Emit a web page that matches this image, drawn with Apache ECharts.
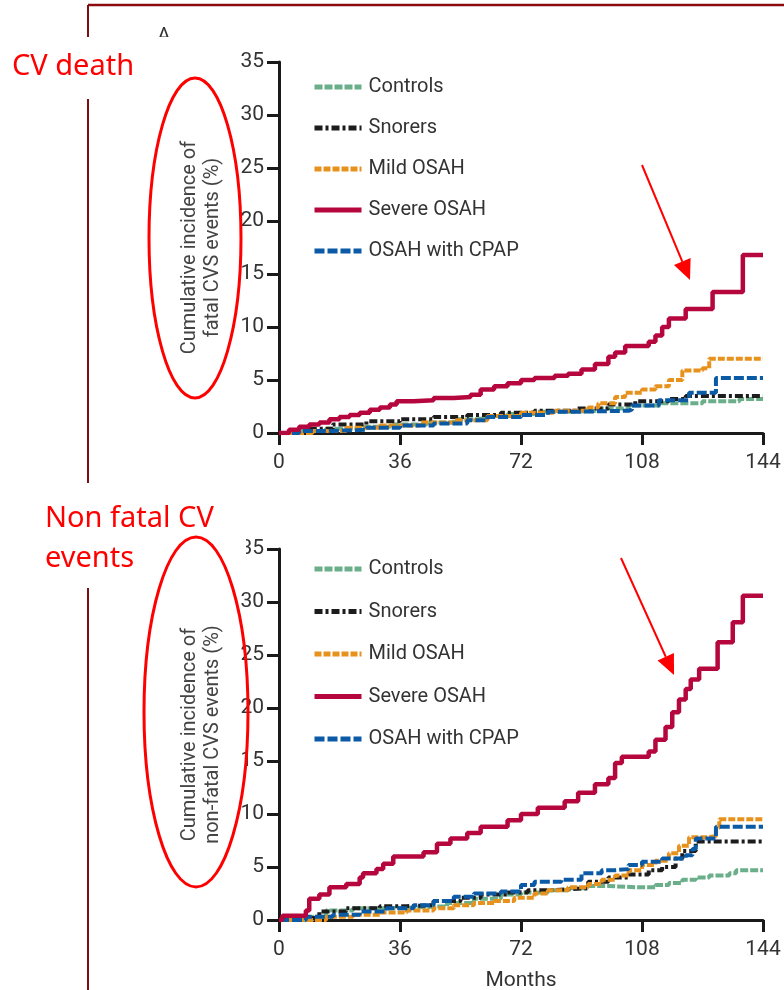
<!DOCTYPE html>
<html>
<head>
<meta charset="utf-8">
<script src="https://cdn.jsdelivr.net/npm/echarts@6/dist/echarts.min.js"></script>
<style>
  html, body { margin: 0; padding: 0; background: #fff; }
  #main { width: 784px; height: 990px; }
</style>
</head>
<body>
<div id="main"></div>
<script>
// series names
var names = ['Controls', 'Snorers', 'Mild OSAH', 'Severe OSAH', 'OSAH with CPAP'];
var xTicks = [0, 36, 72, 108, 144];

// fatal CVS events: [month, cumulative %]
var fatalControls = [[0,0],[6,0.2],[14,0.4],[24,0.6],[34,0.8],[44,1.0],[52,1.3],[60,1.6],[68,1.8],[76,2.0],[86,2.1],[96,2.3],[104,2.6],[114,2.8],[126,3.0],[137,3.2],[144,3.2]];
var fatalSnorers = [[0,0],[8,0.4],[16,0.8],[26,1.1],[36,1.3],[46,1.5],[56,1.7],[66,1.9],[76,2.1],[88,2.3],[98,2.7],[106,3.0],[116,3.2],[121,3.5],[144,3.5]];
var fatalMild = [[0,0],[10,0.2],[20,0.5],[30,0.7],[42,1.0],[52,1.2],[62,1.6],[72,1.9],[82,2.1],[92,2.4],[95,2.8],[100,3.4],[103,3.8],[108,4.1],[112,4.4],[116,5.0],[120,5.9],[126,6.1],[128,7.0],[144,7.0]];
var fatalSevere = [[0,0],[3,0.3],[6,0.6],[9,0.8],[12,1.0],[15,1.3],[18,1.5],[21,1.7],[24,1.9],[27,2.2],[30,2.4],[33,2.7],[35,3.0],[40,3.1],[46,3.3],[52,3.4],[57,3.6],[60,4.1],[64,4.4],[68,4.7],[72,5.0],[76,5.2],[82,5.4],[86,5.6],[90,6.0],[94,6.5],[98,7.2],[100,7.6],[103,8.2],[110,8.6],[112,9.2],[114,10.0],[116,10.8],[121,11.7],[129,13.3],[138,16.8],[144,16.8]];
var fatalCpap = [[0,0],[6,0.2],[16,0.3],[26,0.5],[36,0.7],[46,0.9],[56,1.2],[62,1.5],[72,1.7],[80,2.0],[88,2.1],[104,2.2],[105,2.6],[113,3.1],[122,3.8],[130,5.2],[144,5.2]];

// non-fatal CVS events
var nfControls = [[0,0],[10,0.3],[14,0.9],[22,1.1],[32,1.2],[42,1.3],[50,1.6],[58,2.0],[66,2.4],[72,2.6],[80,2.8],[86,3.0],[92,3.2],[98,3.1],[106,3.1],[112,3.3],[116,3.5],[120,3.8],[124,4.0],[128,4.2],[134,4.4],[136,4.7],[144,4.7]];
var nfSnorers = [[0,0],[4,0.2],[12,0.8],[20,1.1],[30,1.3],[38,1.4],[46,1.8],[54,2.1],[60,2.4],[68,2.6],[74,2.8],[80,2.9],[86,3.0],[92,3.6],[98,4.0],[104,4.3],[110,4.7],[114,5.0],[118,5.8],[120,6.5],[124,7.4],[144,7.4]];
var nfMild = [[0,0],[14,0.3],[22,0.5],[30,0.7],[38,0.9],[46,1.1],[52,1.4],[58,1.6],[64,1.8],[70,2.1],[76,2.5],[80,2.8],[86,3.1],[92,3.4],[96,3.8],[100,4.2],[104,4.7],[108,5.2],[112,5.6],[116,6.3],[119,7.0],[122,7.8],[127,7.9],[130,8.7],[131,9.5],[144,9.5]];
var nfSevere = [[0,0],[1,0.4],[8,0.9],[9,2.0],[12,2.4],[15,3.1],[20,3.4],[24,4.0],[25,4.4],[29,4.8],[31,5.3],[34,6.0],[43,6.4],[47,7.2],[51,7.7],[56,8.2],[60,8.8],[68,9.4],[72,10.0],[77,10.6],[85,11.2],[89,12.0],[94,12.8],[98,13.4],[100,14.8],[102,15.4],[110,15.9],[112,17.0],[115,18.2],[117,19.6],[119,20.8],[121,21.8],[122.5,22.7],[125,23.7],[130.5,26.2],[135,28.1],[138,30.6],[144,30.6]];
var nfCpap = [[0,0],[8,0.3],[16,0.5],[24,0.8],[32,1.1],[40,1.4],[46,1.8],[52,2.2],[58,2.5],[66,2.7],[72,3.3],[76,3.6],[84,3.8],[90,4.4],[96,4.7],[100,4.8],[104,5.2],[108,5.5],[114,5.8],[121,6.1],[123,6.7],[124,7.7],[130,8.8],[144,8.8]];

var colors = ['#6aae8a', '#1c1c1c', '#e8921e', '#b6063e', '#0b5aa6'];
var dashes = [[8, 2], [8, 3, 3, 3], [7, 2], 'solid', [10, 3]];
var widths = [4, 4, 4, 4.5, 4];

var labelFont = 'Roboto, sans-serif';
var titleFont = 'Open Sans, Noto Sans, sans-serif';

var chart = echarts.init(document.getElementById('main'));

function makeSeries(idx) {
  var list = [];
  var groups = [
    [fatalControls, fatalSnorers, fatalMild, fatalSevere, fatalCpap],
    [nfControls, nfSnorers, nfMild, nfSevere, nfCpap]
  ];
  for (let i = 0; i < names.length; i++) {
    list.push({
      name: names[i],
      type: 'line',
      step: 'end',
      xAxisIndex: idx,
      yAxisIndex: idx,
      symbol: 'none',
      z: i === 3 ? 5 : 3,
      lineStyle: { color: colors[i], width: widths[i], type: dashes[i] },
      itemStyle: { color: colors[i] },
      data: groups[idx][i]
    });
  }
  return list;
}

function xAxisOf(idx, withName) {
  var ax = {
    type: 'value', gridIndex: idx, min: 0, max: 144, interval: 36,
    axisLine: { lineStyle: { color: '#1a1a1a', width: 3 } },
    axisTick: { length: 12, lineStyle: { width: 3, color: '#1a1a1a' } },
    axisLabel: { fontSize: 21, color: '#333', fontFamily: labelFont, margin: 19 },
    splitLine: { show: false }
  };
  if (withName) {
    ax.name = 'Months';
    ax.nameLocation = 'middle';
    ax.nameGap = 50;
    ax.nameTextStyle = { fontSize: 21, color: '#333', fontFamily: labelFont };
  }
  return ax;
}

function yAxisOf(idx, title) {
  return {
    type: 'value', gridIndex: idx, min: 0, max: 35, interval: 5,
    name: title, nameLocation: 'middle', nameRotate: 90, nameGap: 55,
    nameTextStyle: { fontSize: 20, lineHeight: 23, color: '#444', fontFamily: labelFont },
    axisLine: { show: true, lineStyle: { color: '#1a1a1a', width: 3 } },
    axisTick: { show: true, length: 12, lineStyle: { width: 3, color: '#1a1a1a' } },
    axisLabel: { fontSize: 21, color: '#333', fontFamily: labelFont, margin: 15 },
    splitLine: { show: false }
  };
}

function legendOf(top, gap) {
  return {
    orient: 'vertical', left: 307, top: top, itemGap: gap,
    itemWidth: 47, itemHeight: 20,
    lineStyle: { width: 5 },
    itemStyle: { opacity: 0 },
    textStyle: { fontSize: 20, lineHeight: 20, color: '#333', fontFamily: labelFont, padding: [0, 0, 0, 2] },
    data: names
  };
}

// arrow helper for annotations
function arrow(x1, y1, x2, y2) {
  var dx = x2 - x1, dy = y2 - y1;
  var len = Math.sqrt(dx * dx + dy * dy);
  var ux = dx / len, uy = dy / len;
  var hl = 20, hw = 9;
  var bx = x2 - ux * hl, by = y2 - uy * hl;
  return [
    { type: 'line', z: 120, shape: { x1: x1, y1: y1, x2: bx, y2: by }, style: { stroke: '#ff0000', lineWidth: 2 } },
    { type: 'polygon', z: 120, shape: { points: [[x2, y2], [bx - uy * hw, by + ux * hw], [bx + uy * hw, by - ux * hw]] }, style: { fill: '#ff0000' } }
  ];
}

var graphics = [
  // dark red frame
  { type: 'line', z: 50, shape: { x1: 88, y1: 5, x2: 784, y2: 5 }, style: { stroke: '#8a0c0c', lineWidth: 2.5 } },
  { type: 'line', z: 50, shape: { x1: 88, y1: 5, x2: 88, y2: 990 }, style: { stroke: '#7a1010', lineWidth: 2 } },
  { type: 'text', z: 50, left: 157, top: 26, style: { text: 'A', fontSize: 22, fill: '#333', fontFamily: titleFont } },
  // text boxes
  { type: 'rect', z: 100, shape: { x: 0, y: 37, width: 172, height: 62 }, style: { fill: '#fff' } },
  { type: 'rect', z: 100, shape: { x: 0, y: 483, width: 246, height: 105 }, style: { fill: '#fff' } },
  { type: 'text', z: 110, left: 12, top: 52, style: { text: 'CV death', fontSize: 29, fill: '#ff0000', fontFamily: 'Noto Sans, sans-serif' } },
  { type: 'text', z: 110, left: 45, top: 499, style: { text: 'Non fatal CV\nevents', fontSize: 29, lineHeight: 40, fill: '#ff0000', fontFamily: 'Noto Sans, sans-serif' } },
  // ellipses
  { type: 'ellipse', z: 110, shape: { cx: 195, cy: 238, rx: 46, ry: 160 }, style: { fill: 'none', stroke: '#ff0000', lineWidth: 3 } },
  { type: 'ellipse', z: 110, shape: { cx: 196, cy: 712, rx: 52, ry: 175 }, style: { fill: 'none', stroke: '#ff0000', lineWidth: 3 } }
].concat(arrow(642, 165, 690, 280)).concat(arrow(621, 558, 674, 675));

var option = {
  backgroundColor: '#fff',
  animation: false,
  grid: [
    { left: 279, right: 21, top: 62, height: 371, outerBoundsMode: 'none' },
    { left: 279, right: 21, top: 549, height: 371, outerBoundsMode: 'none' }
  ],
  legend: [legendOf(72, 21), legendOf(554, 22.5)],
  xAxis: [xAxisOf(0, false), xAxisOf(1, true)],
  yAxis: [
    yAxisOf(0, 'Cumulative incidence of\nfatal CVS events (%)'),
    yAxisOf(1, 'Cumulative incidence of\nnon-fatal CVS events (%)')
  ],
  series: makeSeries(0).concat(makeSeries(1)),
  graphic: graphics
};

chart.setOption(option);
</script>
</body>
</html>
